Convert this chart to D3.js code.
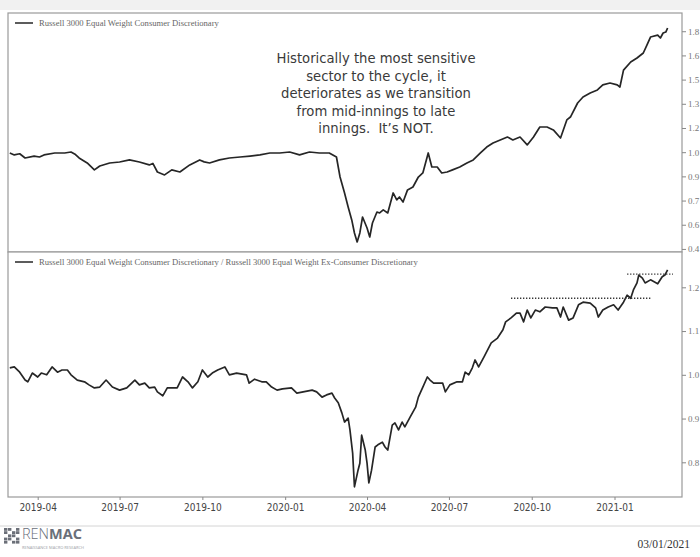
<!DOCTYPE html>
<html>
<head>
<meta charset="utf-8">
<script src="https://cdn.jsdelivr.net/npm/d3@7"></script>
<style>
  html, body { margin: 0; padding: 0; background: #fff; }
  svg { display: block; }
</style>
</head>
<body>
<svg id="chart" width="700" height="557"></svg>
<script>
// ---------- DATA ----------
const topDates = ["2019-03-01","2019-03-06","2019-03-12","2019-03-18","2019-03-28","2019-04-03","2019-04-08","2019-04-20","2019-05-01","2019-05-08","2019-05-13","2019-05-17","2019-05-26","2019-06-03","2019-06-09","2019-06-20","2019-07-01","2019-07-12","2019-07-23","2019-08-03","2019-08-07","2019-08-12","2019-08-20","2019-08-28","2019-09-06","2019-09-17","2019-09-28","2019-10-03","2019-10-09","2019-10-20","2019-10-31","2019-11-12","2019-11-23","2019-12-04","2019-12-15","2019-12-26","2020-01-06","2020-01-17","2020-01-28","2020-02-08","2020-02-19","2020-02-27","2020-03-02","2020-03-07","2020-03-11","2020-03-15","2020-03-18","2020-03-21","2020-03-24","2020-03-27","2020-04-01","2020-04-04","2020-04-07","2020-04-12","2020-04-15","2020-04-19","2020-04-24","2020-04-30","2020-05-04","2020-05-07","2020-05-11","2020-05-16","2020-05-22","2020-05-28","2020-06-02","2020-06-08","2020-06-12","2020-06-18","2020-06-23","2020-06-29","2020-07-05","2020-07-13","2020-07-21","2020-07-28","2020-08-05","2020-08-12","2020-08-19","2020-08-27","2020-09-04","2020-09-10","2020-09-18","2020-09-26","2020-10-03","2020-10-10","2020-10-18","2020-10-25","2020-11-02","2020-11-09","2020-11-13","2020-11-21","2020-11-27","2020-12-05","2020-12-13","2020-12-19","2020-12-27","2021-01-04","2021-01-07","2021-01-11","2021-01-19","2021-01-26","2021-02-02","2021-02-06","2021-02-10","2021-02-18","2021-02-21","2021-02-24","2021-02-27","2021-03-01"];
const topValues = [0.995,0.983,0.990,0.964,0.976,0.970,0.983,0.995,0.995,1.001,0.985,0.964,0.933,0.890,0.914,0.933,0.939,0.952,0.939,0.921,0.930,0.877,0.859,0.890,0.877,0.921,0.952,0.940,0.933,0.952,0.964,0.970,0.976,0.983,0.995,0.995,1.001,0.983,1.001,0.995,0.995,0.970,0.846,0.747,0.660,0.580,0.499,0.443,0.499,0.598,0.530,0.474,0.561,0.629,0.623,0.642,0.623,0.747,0.704,0.722,0.691,0.766,0.784,0.846,0.871,0.995,0.908,0.908,0.871,0.877,0.890,0.908,0.933,0.952,0.995,1.032,1.057,1.076,1.094,1.076,1.094,1.045,1.094,1.156,1.156,1.138,1.088,1.200,1.218,1.305,1.342,1.367,1.386,1.417,1.429,1.417,1.404,1.509,1.559,1.584,1.615,1.664,1.714,1.726,1.708,1.739,1.745,1.770];

const botDates = ["2019-03-01","2019-03-06","2019-03-12","2019-03-18","2019-03-21","2019-03-26","2019-04-01","2019-04-05","2019-04-11","2019-04-17","2019-04-23","2019-04-28","2019-05-04","2019-05-08","2019-05-15","2019-05-23","2019-05-28","2019-06-03","2019-06-09","2019-06-16","2019-06-23","2019-07-01","2019-07-09","2019-07-18","2019-07-23","2019-07-29","2019-08-03","2019-08-09","2019-08-12","2019-08-18","2019-08-23","2019-08-29","2019-09-03","2019-09-09","2019-09-15","2019-09-20","2019-09-26","2019-10-01","2019-10-07","2019-10-12","2019-10-18","2019-10-26","2019-10-31","2019-11-08","2019-11-19","2019-11-22","2019-11-28","2019-12-06","2019-12-11","2019-12-17","2019-12-23","2019-12-29","2020-01-08","2020-01-14","2020-01-21","2020-01-31","2020-02-05","2020-02-11","2020-02-16","2020-02-22","2020-02-25","2020-02-29","2020-03-04","2020-03-07","2020-03-11","2020-03-13","2020-03-16","2020-03-18","2020-03-22","2020-03-24","2020-03-26","2020-03-30","2020-04-01","2020-04-03","2020-04-06","2020-04-10","2020-04-13","2020-04-18","2020-04-21","2020-04-24","2020-04-29","2020-05-02","2020-05-06","2020-05-10","2020-05-13","2020-05-19","2020-05-25","2020-05-28","2020-06-02","2020-06-07","2020-06-10","2020-06-14","2020-06-19","2020-06-24","2020-06-27","2020-07-02","2020-07-10","2020-07-16","2020-07-19","2020-07-23","2020-07-27","2020-07-30","2020-08-03","2020-08-09","2020-08-17","2020-08-24","2020-08-30","2020-09-02","2020-09-08","2020-09-14","2020-09-18","2020-09-22","2020-09-26","2020-09-30","2020-10-05","2020-10-10","2020-10-16","2020-10-24","2020-10-29","2020-11-02","2020-11-05","2020-11-11","2020-11-16","2020-11-22","2020-11-27","2020-12-05","2020-12-11","2020-12-14","2020-12-19","2020-12-25","2020-12-31","2021-01-05","2021-01-11","2021-01-15","2021-01-19","2021-01-22","2021-01-26","2021-01-28","2021-02-01","2021-02-04","2021-02-10","2021-02-18","2021-02-23","2021-02-26","2021-03-01"];
const botValues = [1.016,1.018,1.006,0.988,0.984,1.004,0.995,1.004,1.000,1.018,1.006,1.011,1.011,1.000,0.988,0.984,0.977,0.970,0.972,0.988,0.972,0.965,0.970,0.988,0.977,0.981,0.970,0.972,0.961,0.952,0.970,0.970,0.970,0.995,0.984,0.970,0.984,1.011,0.995,1.004,1.011,1.018,1.000,1.004,1.000,0.981,0.990,0.984,0.984,0.972,0.965,0.968,0.970,0.958,0.961,0.965,0.961,0.949,0.954,0.958,0.947,0.936,0.913,0.892,0.901,0.874,0.821,0.744,0.782,0.798,0.862,0.828,0.798,0.753,0.782,0.835,0.840,0.846,0.835,0.828,0.885,0.890,0.874,0.892,0.881,0.904,0.926,0.949,0.972,0.995,0.988,0.981,0.981,0.981,0.961,0.977,0.984,0.984,1.006,1.000,1.016,1.034,1.018,1.041,1.073,1.084,1.103,1.121,1.130,1.141,1.141,1.121,1.148,1.130,1.148,1.144,1.155,1.153,1.153,1.132,1.155,1.125,1.130,1.160,1.166,1.164,1.153,1.132,1.148,1.155,1.160,1.148,1.166,1.182,1.175,1.194,1.210,1.228,1.221,1.210,1.217,1.208,1.224,1.228,1.240];

// resistance levels (dotted)
const levelStarts = ["2020-09-08","2021-01-15"];
const levelEnds   = ["2021-02-10","2021-03-07"];
const levelValues = [1.175,1.230];

const xTickDates = ["2019-04-01","2019-07-01","2019-10-01","2020-01-01","2020-04-01","2020-07-01","2020-10-01","2021-01-01"];
const topTickValues = [0.4,0.55,0.7,0.85,1.0,1.15,1.3,1.45,1.6,1.75];
const topTickLabels = ["0.4","0.6","0.7","0.9","1.0","1.2","1.3","1.5","1.6","1.8"];
const botTickValues = [0.8,0.9,1.0,1.1,1.2];
const botTickLabels = ["0.8","0.9","1.0","1.1","1.2"];

const topLegend = "Russell 3000 Equal Weight Consumer Discretionary";
const botLegend = "Russell 3000 Equal Weight Consumer Discretionary / Russell 3000 Equal Weight Ex-Consumer Discretionary";
const noteLines = ["Historically the most sensitive","sector to the cycle, it","deteriorates as we transition","from mid-innings to late","innings.  It\u2019s NOT."];
const dateStamp = "03/01/2021";

// ---------- CHART ----------
const parse = d3.utcParse("%Y-%m-%d");
const svg = d3.select("#chart");
const L = 8, R = 682;
const topPanel = {y0: 13, y1: 252};
const botPanel = {y0: 252, y1: 497};
const lineColor = "#262626";
const frameColor = "#9a9a9a";
const serif = "'Liberation Serif','DejaVu Serif',serif";

const x = d3.scaleUtc().domain([parse("2019-02-27"), parse("2021-03-17")]).range([L, R]);
const yTop = d3.scaleLinear().domain([0.381, 1.863]).range([topPanel.y1, topPanel.y0]);
const yBot = d3.scaleLinear().domain([0.7207, 1.2807]).range([botPanel.y1, botPanel.y0]);

// page top shading (scan look)
svg.append("rect").attr("x",0).attr("y",0).attr("width",700).attr("height",10).attr("fill","#f1f1f1");

function panel(p, y, tickVals, tickLabs, dates, vals, legend) {
  const g = svg.append("g");
  g.append("rect").attr("x", L).attr("y", p.y0).attr("width", R - L).attr("height", p.y1 - p.y0)
    .attr("fill", "#fff").attr("stroke", frameColor).attr("stroke-width", 1.2);
  const ax = g.append("g").attr("transform", `translate(${R},0)`)
    .call(d3.axisRight(y).tickValues(tickVals).tickSize(4).tickPadding(2)
      .tickFormat((d, i) => tickLabs[i]));
  ax.select(".domain").remove();
  ax.selectAll(".tick line").attr("stroke", "#888");
  ax.selectAll(".tick text").attr("fill", "#777").style("font-family", serif).style("font-size", "9px");
  const data = dates.map((d, i) => ({d: parse(d), v: vals[i]}));
  g.append("path").datum(data)
    .attr("fill", "none").attr("stroke", lineColor).attr("stroke-width", 1.7)
    .attr("stroke-linejoin", "round")
    .attr("d", d3.line().x(d => x(d.d)).y(d => y(d.v)));
  // legend
  const ly = p.y0 + 10;
  g.append("line").attr("x1", 15).attr("x2", 33).attr("y1", ly).attr("y2", ly)
    .attr("stroke", "#333").attr("stroke-width", 1.6);
  g.append("text").attr("x", 39).attr("y", ly + 3).text(legend)
    .attr("fill", "#666").style("font-family", serif).style("font-size", "8.6px");
  return g;
}

panel(topPanel, yTop, topTickValues, topTickLabels, topDates, topValues, topLegend);
const gb = panel(botPanel, yBot, botTickValues, botTickLabels, botDates, botValues, botLegend);

// dotted resistance lines
levelValues.forEach((v, i) => {
  gb.append("line")
    .attr("x1", x(parse(levelStarts[i]))).attr("x2", x(parse(levelEnds[i])))
    .attr("y1", yBot(v)).attr("y2", yBot(v))
    .attr("stroke", "#333").attr("stroke-width", 1.3).attr("stroke-dasharray", "1.3,1.7");
});

// x axis
const xa = svg.append("g").attr("transform", `translate(0,${botPanel.y1})`)
  .call(d3.axisBottom(x).tickValues(xTickDates.map(parse)).tickSize(3).tickPadding(4)
    .tickFormat(d3.utcFormat("%Y-%m")));
xa.select(".domain").remove();
xa.selectAll(".tick line").attr("stroke", "#888");
xa.selectAll(".tick text").attr("fill", "#444")
  .style("font-family", "'DejaVu Sans Condensed','Liberation Sans Narrow',sans-serif").style("font-size", "10px");

// annotation
const note = svg.append("text").attr("text-anchor", "middle")
  .attr("fill", "#3a3a3a").style("font-family", "'DejaVu Sans',sans-serif").style("font-size", "13.2px")
  .style("white-space", "pre").attr("xml:space", "preserve");
noteLines.forEach((t, i) => {
  note.append("tspan").attr("x", 376).attr("y", 63 + i * 17.5).text(t);
});

// footer
svg.append("line").attr("x1", 0).attr("x2", 700).attr("y1", 526).attr("y2", 526)
  .attr("stroke", "#d4d4d4").attr("stroke-width", 1);
const logo = svg.append("g").attr("transform", "translate(4,528)");
const cells = [[0,0],[1,0],[3,0],[0,1],[2,1],[3,1],[1,2],[2,2],[0,3],[1,3],[3,3],[0,4],[2,4],[3,4]];
cells.forEach(c => logo.append("rect").attr("x", c[0]*4).attr("y", c[1]*3.2).attr("width", 3.4).attr("height", 2.8).attr("fill", "#6b6f78"));
const lt = svg.append("text").attr("x", 22).attr("y", 539).style("font-family", "'Open Sans',sans-serif").style("font-size", "14.5px").attr("fill", "#6a707a");
lt.append("tspan").text("REN").style("font-weight", "300");
lt.append("tspan").text("MAC").style("font-weight", "700");
svg.append("text").attr("x", 22).attr("y", 549).text("RENAISSANCE MACRO RESEARCH")
  .attr("fill", "#9a9ea6").style("font-family", "'Open Sans',sans-serif").style("font-size", "4px");
svg.append("text").attr("x", 690).attr("y", 548).attr("text-anchor", "end").text(dateStamp)
  .attr("fill", "#333").style("font-family", serif).style("font-size", "11.5px");
</script>
</body>
</html>
